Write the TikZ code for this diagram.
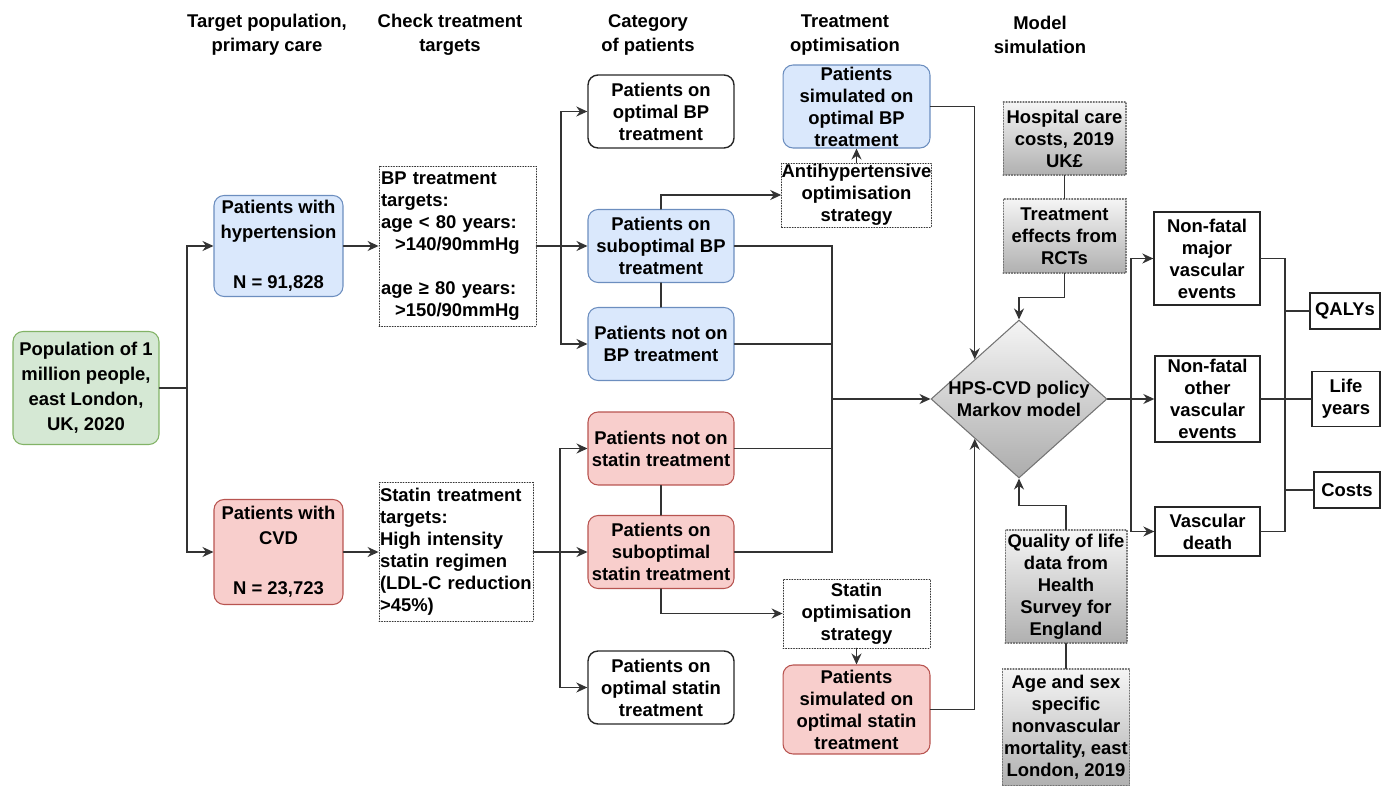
\documentclass[tikz,border=0pt]{standalone}
\usepackage{fontspec}
\setmainfont{Liberation Sans}
\usetikzlibrary{arrows.meta,shapes.geometric}

\begin{document}
\begin{tikzpicture}[x=0.02cm, y=-0.02cm, >={Stealth[length=2.2mm,width=2mm]}, line cap=round,
  every node/.style={font=\fontsize{10.5}{12.5}\selectfont\bfseries, align=center},
  head/.style={font=\fontsize{10.5}{13.6}\selectfont\bfseries},
  wide/.style={font=\fontsize{10.5}{14.2}\selectfont\bfseries},
  link/.style={draw=black!80, line width=0.8pt},
  catbox/.style={draw, rounded corners=0.2cm, minimum width=2.92cm, minimum height=1.46cm,
    inner sep=1pt, line width=0.6pt},
  bpbox/.style={catbox, fill=bpFill, draw=bpLine},
  cvdbox/.style={catbox, fill=cvdFill, draw=cvdLine},
  popbox/.style={catbox, fill=popFill, draw=popLine},
  plainbox/.style={catbox, draw=black!85, line width=0.8pt},
  dotbox/.style={draw=black!80, densely dotted, line width=0.5pt},
  databox/.style={draw=black!55, densely dotted, line width=0.6pt, top color=gray!8,
    bottom color=gray!62, minimum width=2.46cm, inner sep=1pt},
  outbox/.style={draw=black!85, line width=0.8pt, inner sep=1pt}]
\definecolor{bpFill}{HTML}{DAE8FC}
\definecolor{bpLine}{HTML}{6C8EBF}
\definecolor{cvdFill}{HTML}{F8CECC}
\definecolor{cvdLine}{HTML}{B85450}
\definecolor{popFill}{HTML}{D5E8D4}
\definecolor{popLine}{HTML}{82B366}
\useasboundingbox (0,0) rectangle (1381,786);
% ---- column headers ----
\node[head] (h1) at (267,35) {Target population,\\primary care};
\node[head] (h2) at (450,35) {Check treatment\\targets};
\node[head] (h3) at (648,35) {Category\\of patients};
\node[head] (h4) at (845,35) {Treatment\\optimisation};
\node[head] (h5) at (1040,35) {Model\\simulation};
% ---- population and target groups ----
\node[popbox, wide, minimum height=2.26cm] (pop) at (86,388) {Population of 1\\million people,\\east London,\\UK, 2020};
\node[bpbox, wide, minimum width=2.58cm, minimum height=2.02cm] (hyp) at (278.5,246)
  {Patients with\\hypertension\\[14.2pt]N = 91,828};
\node[cvdbox, wide, minimum width=2.58cm, minimum height=2.1cm] (cvd) at (278.5,552)
  {Patients with\\CVD\\[14.2pt]N = 23,723};
% ---- treatment targets ----
\node[dotbox, align=left, text width=3.06cm, inner xsep=0.04cm, minimum height=3.12cm] (bptarget) at (457.5,246)
  {BP treatment\\targets:\\age < 80 years:\\\hspace*{0.28cm}>140/90mmHg\\[12.5pt]age ≥ 80 years:\\\hspace*{0.28cm}>150/90mmHg};
\node[dotbox, align=left, text width=3.04cm, inner xsep=0.02cm, minimum height=2.76cm] (sttarget) at (456,552)
  {Statin treatment\\targets:\\High intensity\\statin regimen\\\mbox{(LDL-C reduction}\\>45\%)};
% ---- categories of patients ----
\node[plainbox] (optbp) at (661,111.5) {Patients on\\optimal BP\\treatment};
\node[bpbox] (subbp) at (661,246) {Patients on\\suboptimal BP\\treatment};
\node[bpbox] (notbp) at (661,344) {Patients not on\\BP treatment};
\node[cvdbox] (notst) at (661,448.5) {Patients not on\\statin treatment};
\node[cvdbox] (subst) at (661,552) {Patients on\\suboptimal\\statin treatment};
\node[plainbox] (optst) at (661,687.5) {Patients on\\optimal statin\\treatment};
% ---- treatment optimisation ----
\node[bpbox, minimum width=2.94cm, minimum height=1.66cm, inner ysep=0pt] (simbp) at (856.5,106.5)
  {Patients\\simulated on\\optimal BP\\treatment};
\node[dotbox, minimum width=2.94cm, minimum height=1.28cm, inner sep=0pt] (antihyp) at (856.5,195)
  {Antihypertensive\\optimisation\\strategy};
\node[dotbox, minimum width=2.94cm, minimum height=1.38cm, inner sep=0pt] (statopt) at (856.5,613.5)
  {Statin\\optimisation\\strategy};
\node[cvdbox, minimum width=2.94cm, minimum height=1.78cm, inner ysep=0pt] (simst) at (856.5,709.5)
  {Patients\\simulated on\\optimal statin\\treatment};
% ---- model and its inputs ----
\node[diamond, draw=black!55, line width=0.6pt, top color=gray!8, bottom color=gray!65,
  minimum width=3.52cm, minimum height=3.16cm, inner sep=0pt,
  label={[align=center]center:HPS-CVD policy\\Markov model}] (markov) at (1019,399) {};
\node[databox, minimum height=1.46cm] (hosp) at (1064.5,138.5) {Hospital care\\costs, 2019\\UK£};
\node[databox, minimum height=1.48cm] (effects) at (1064.5,236) {Treatment\\effects from\\RCTs};
\node[databox, minimum width=2.44cm, minimum height=2.26cm] (qol) at (1066,586.5)
  {Quality of life\\data from\\Health\\Survey for\\England};
\node[databox, minimum width=2.52cm, minimum height=2.34cm] (agesex) at (1066,727.5)
  {Age and sex\\specific\\nonvascular\\mortality, east\\London, 2019};
% ---- outcomes ----
\node[outbox, minimum width=2.12cm, minimum height=1.86cm] (major) at (1207,258.5) {Non-fatal\\major\\vascular\\events};
\node[outbox, minimum width=2.1cm, minimum height=1.72cm, inner ysep=0pt] (other) at (1207.5,399) {Non-fatal\\other\\vascular\\events};
\node[outbox, minimum width=2.1cm, minimum height=0.98cm] (death) at (1207.5,531.5) {Vascular\\death};
\node[outbox, minimum width=1.4cm, minimum height=0.72cm] (qaly) at (1345,311) {QALYs};
\node[outbox, minimum width=1.36cm, minimum height=1.1cm] (life) at (1346,399) {Life\\years};
\node[outbox, minimum width=1.32cm, minimum height=0.72cm] (costs) at (1347,490) {Costs};
% ---- junctions ----
\coordinate (popsplit) at (187,388);
\coordinate (bpsplit) at (561,246);
\coordinate (stsplit) at (560,552);
\coordinate (collect) at (832,399);
\coordinate (outsplit) at (1131,399);
\coordinate (endsplit) at (1285,399);
% ---- connectors ----
\draw[link] (pop) -- (popsplit);
\draw[link,->] (popsplit) |- (hyp);
\draw[link,->] (popsplit) |- (cvd);
\draw[link,->] (hyp) -- (bptarget);
\draw[link,->] (bptarget) -- (subbp);
\draw[link,->] (bpsplit) |- (optbp);
\draw[link,->] (bpsplit) |- (notbp);
\draw[link,->] (cvd) -- (sttarget);
\draw[link,->] (sttarget) -- (subst);
\draw[link,->] (stsplit) |- (notst);
\draw[link,->] (stsplit) |- (optst);
\draw[link,->] (subbp.north) |- (antihyp);
\draw[link] (subbp) -- (notbp);
\draw[link,->] (antihyp) -- (simbp);
\draw[link,->] (subst.south) |- (statopt);
\draw[link] (notst) -- (subst);
\draw[link,->] (statopt) -- (simst);
\draw[link] (subbp.east) -| (collect);
\draw[link] (notbp.east) -| (collect);
\draw[link] (notst.east) -| (collect);
\draw[link] (subst.east) -| (collect);
\draw[link,->] (collect) -- (markov);
\draw[link,->] (simbp.east) -| (markov.north west);
\draw[link,->] (simst.east) -| (markov.south west);
\draw[link] (hosp) -- (effects);
\draw[link,->] (effects.south) -- ++(0,24) -| (markov.north);
\draw[link,->] (qol.north) -- ++(0,-24) -| (markov.south);
\draw[link] (qol) -- (agesex);
\draw[link,->] (markov) -- (other);
\draw[link,->] (outsplit) |- (major);
\draw[link,->] (outsplit) |- (death);
\draw[link] (major.east) -| (endsplit);
\draw[link] (death.east) -| (endsplit);
\draw[link] (other) -- (life);
\draw[link] (endsplit |- qaly) -- (qaly);
\draw[link] (endsplit |- costs) -- (costs);
\end{tikzpicture}
\end{document}
